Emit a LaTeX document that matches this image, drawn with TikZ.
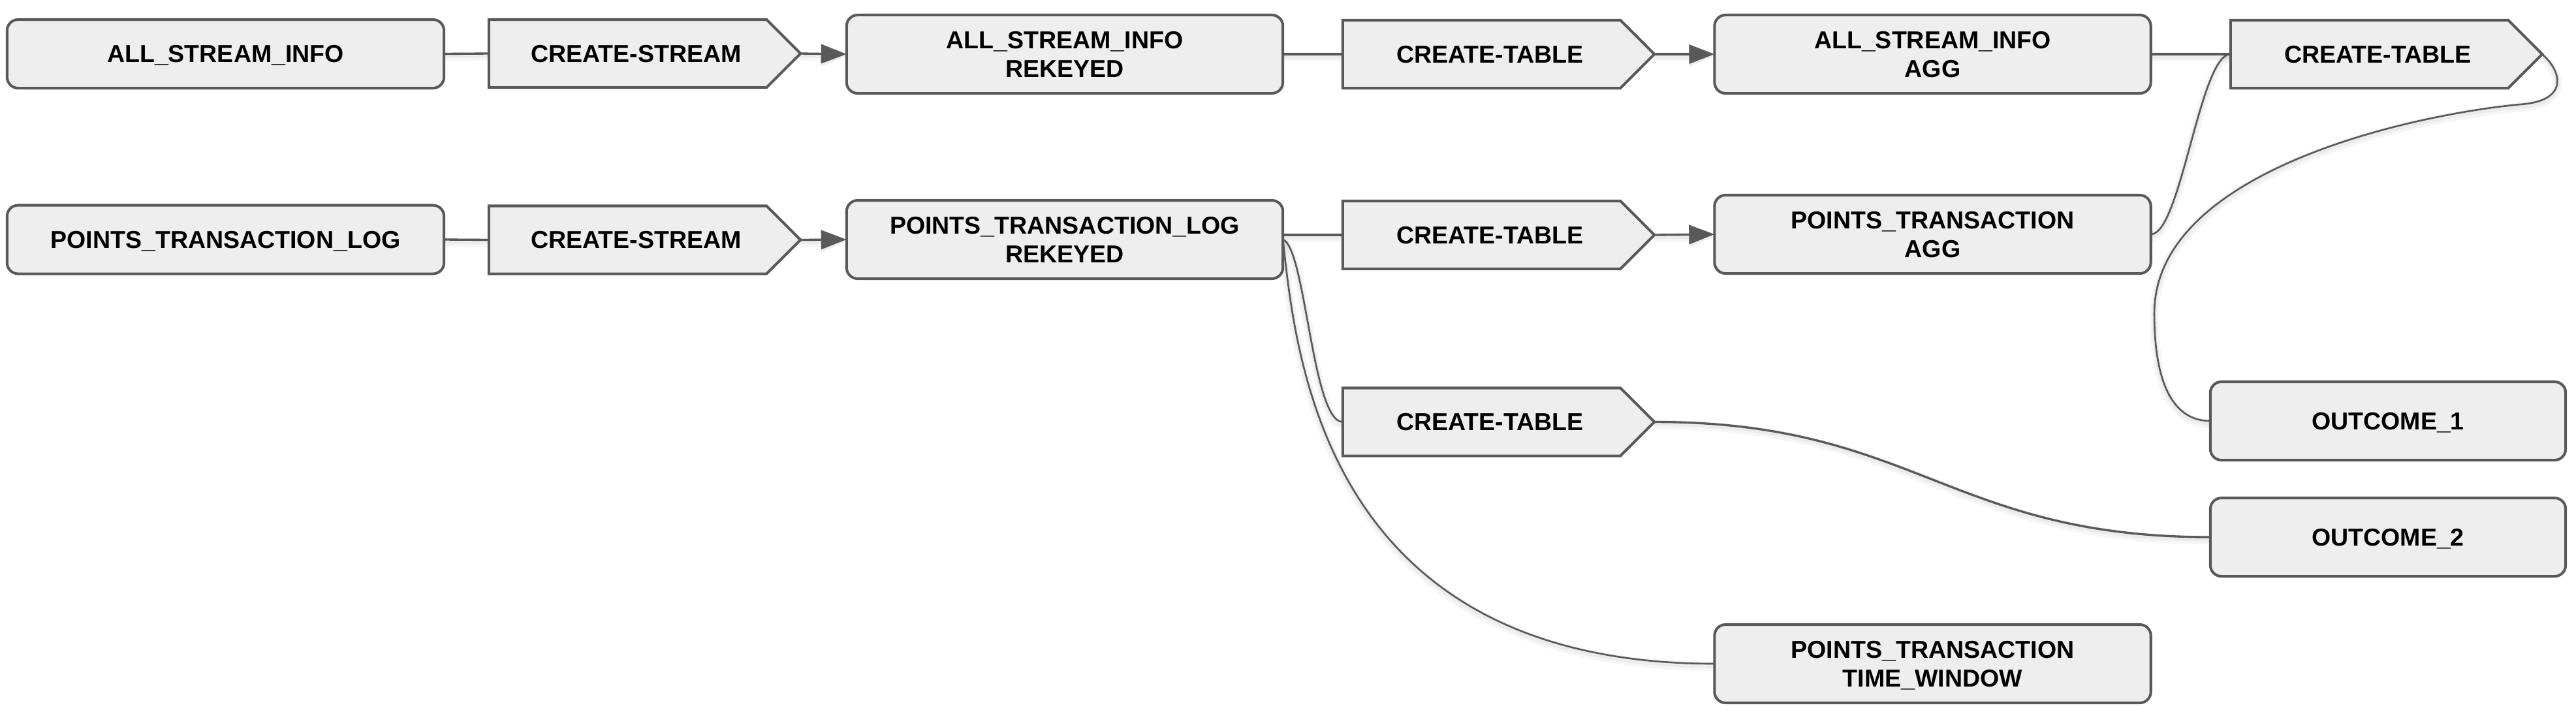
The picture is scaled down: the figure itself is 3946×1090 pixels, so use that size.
\documentclass[tikz,border=0pt]{standalone}
\usepackage{fontspec}
\setmainfont{Liberation Sans}
\usetikzlibrary{arrows.meta,backgrounds,calc}
\definecolor{edgegray}{HTML}{595959}
\definecolor{boxfill}{HTML}{EEEEEE}
\tikzset{
  lbl/.style={font=\fontsize{10.67pt}{12.52pt}\selectfont\bfseries, text=black, align=center,
    text depth=0pt, inner sep=0pt, outer sep=0pt},
  rbox/.style={lbl, draw=edgegray, fill=boxfill, line width=1.15pt, rounded corners=0.17cm},
  widebox/.style={rbox, minimum width=6.68cm, minimum height=1.2cm},
  lowbox/.style={rbox, minimum width=6.69cm, minimum height=1.05cm},
  outbox/.style={rbox, minimum width=5.44cm, minimum height=1.2cm},
  cbox/.style={lbl, minimum width=4.25cm, minimum height=1.04cm},
  pent/.style={draw=edgegray, fill=boxfill, line width=1.15pt, line join=miter},
  shadowed/.style={
    preaction={draw=black, draw opacity=0.035, line width=0.14cm, transform canvas={yshift=-0.04cm}},
    preaction={draw=black, draw opacity=0.04, line width=0.07cm, transform canvas={yshift=-0.03cm}}},
  conn/.style={shadowed, draw=edgegray, line width=0.95pt},
  thinconn/.style={shadowed, draw=edgegray, line width=0.75pt},
  arrowed/.style={-{Triangle[length=0.39cm, width=0.29cm]}}
}
\begin{document}
\begin{tikzpicture}[x=0.01cm, y=-0.01cm]
\useasboundingbox (0,0) rectangle (3946,1090);

% rounded boxes
\node[lowbox] (asi) at (345.5,82.5) {ALL\_STREAM\_INFO};
\node[lowbox] (ptl) at (345.5,367) {POINTS\_TRANSACTION\_LOG};
\node[widebox] (asr) at (1631,83) {ALL\_STREAM\_INFO\\REKEYED};
\node[widebox] (ptr) at (1631,367) {POINTS\_TRANSACTION\_LOG\\REKEYED};
\node[widebox] (asa) at (2960.5,83) {ALL\_STREAM\_INFO\\AGG};
\node[widebox] (pta) at (2960.5,359) {POINTS\_TRANSACTION\\AGG};
\node[outbox] (o1) at (3658,645) {OUTCOME\_1};
\node[outbox] (o2) at (3658,823) {OUTCOME\_2};
\node[widebox] (ptw) at (2960.5,1017) {POINTS\_TRANSACTION\\TIME\_WINDOW};

% create shapes (body part)
\node[cbox] (cs1) at (961.5,82) {\hspace*{0.26cm}CREATE-STREAM};
\node[cbox] (cs2) at (961.5,367.5) {\hspace*{0.26cm}CREATE-STREAM};
\node[cbox] (ct1) at (2269.5,83) {\hspace*{0.26cm}CREATE-TABLE};
\node[cbox] (ct2) at (2269.5,360) {\hspace*{0.26cm}CREATE-TABLE};
\node[cbox] (ct3) at (2269.5,646.5) {\hspace*{0.26cm}CREATE-TABLE};
\node[cbox] (ct4) at (3629.5,83) {\hspace*{0.26cm}CREATE-TABLE};
\foreach \n in {cs1,cs2,ct1,ct2,ct3,ct4}{
  \coordinate (\n-tip) at ($(\n.east)+(0.52cm,0)$);
}
\coordinate (w1) at (3860,160);
\coordinate (w2) at (3300,480);

\begin{scope}[on background layer]
  % connectors
  \draw[conn] (asi.east) -- (cs1.west);
  \draw[conn, arrowed] (cs1-tip) -- (asr.west);
  \draw[conn] (asr.east) -- (ct1.west);
  \draw[conn, arrowed] (ct1-tip) -- (asa.west);
  \draw[conn] (asa.east) -- (ct4.west);
  \draw[conn] (ptl.east) -- (cs2.west);
  \draw[conn, arrowed] (cs2-tip) -- (ptr.west);
  \draw[conn] (ptr.east |- ct2.west) -- (ct2.west);
  \draw[conn, arrowed] (ct2-tip) -- (pta.west);
  \draw[thinconn] (pta.east) .. controls +(46,0) and +(-47,0) .. (ct4.west);
  \draw[thinconn] (ct4-tip) .. controls +(31,27) and (3935,155) .. (w1)
     .. controls (3700,175) and (3300,260) .. (w2)
     .. controls (3300,590) and (3330,645) .. (o1.west);
  \draw[thinconn] (ptr.east) .. controls +(35,13) and +(-47,0) .. (ct3.west);
  \draw[thinconn] (ptr.east) .. controls +(20,183) and +(-597,0) .. (ptw.west);
  \draw[conn] (ct3-tip) .. controls +(400,0) and +(-400,0) .. (o2.west);
  % pentagon bodies
  \foreach \n in {cs1,cs2,ct1,ct2,ct3,ct4}{
    \draw[pent] (\n.north west) -- (\n.north east) -- (\n-tip) -- (\n.south east) -- (\n.south west) -- cycle;
  }
\end{scope}
\end{tikzpicture}
\end{document}
